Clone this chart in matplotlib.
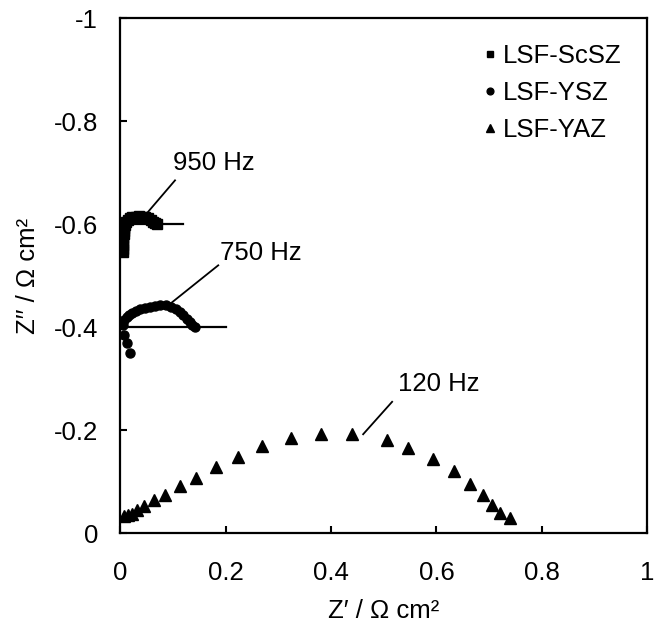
import matplotlib
matplotlib.use("Agg")
import matplotlib.pyplot as plt

plt.rcParams['font.family'] = ['Liberation Sans', 'DejaVu Sans']
plt.rcParams['axes.unicode_minus'] = False

# LSF-ScSZ (squares), Z' and Z''
scsz_x = [0.006, 0.006, 0.006, 0.006, 0.006, 0.007, 0.007, 0.008, 0.009, 0.011, 0.014,
          0.018, 0.023, 0.029, 0.035, 0.041, 0.047, 0.053, 0.058, 0.062, 0.066, 0.069]
scsz_y = [-0.545, -0.552, -0.559, -0.566, -0.573, -0.580, -0.587, -0.593, -0.599, -0.604, -0.608,
          -0.611, -0.613, -0.614, -0.615, -0.614, -0.613, -0.611, -0.608, -0.605, -0.602, -0.600]

# LSF-YSZ (circles)
ysz_x = [0.018, 0.012, 0.008, 0.005, 0.008, 0.012, 0.017, 0.023, 0.030, 0.038, 0.047, 0.056,
         0.066, 0.076, 0.086, 0.096, 0.105, 0.113, 0.120, 0.126, 0.132, 0.137, 0.141]
ysz_y = [-0.350, -0.370, -0.385, -0.405, -0.413, -0.419, -0.424, -0.428, -0.432, -0.435, -0.438,
         -0.440, -0.441, -0.442, -0.442, -0.440, -0.436, -0.430, -0.423, -0.416, -0.410, -0.404, -0.400]

# LSF-YAZ (triangles)
yaz_x = [0.008, 0.015, 0.022, 0.032, 0.046, 0.065, 0.085, 0.113, 0.144, 0.182, 0.223, 0.270,
         0.324, 0.381, 0.440, 0.507, 0.547, 0.593, 0.634, 0.663, 0.688, 0.706, 0.721, 0.740]
yaz_y = [-0.033, -0.036, -0.038, -0.045, -0.052, -0.064, -0.075, -0.091, -0.108, -0.128, -0.148,
         -0.169, -0.184, -0.192, -0.192, -0.181, -0.166, -0.144, -0.120, -0.095, -0.074, -0.054,
         -0.039, -0.030]

xticks = [0, 0.2, 0.4, 0.6, 0.8, 1]
xtick_labels = ['0', '0.2', '0.4', '0.6', '0.8', '1']
yticks = [0, -0.2, -0.4, -0.6, -0.8, -1]
ytick_labels = ['0', '-0.2', '-0.4', '-0.6', '-0.8', '-1']

fs = 18.5

fig = plt.figure(figsize=(6.57, 6.25), dpi=100)
ax = fig.add_axes([0.183, 0.147, 0.802, 0.824])

# offset baselines
ax.plot([0, 0.12], [-0.6, -0.6], color='black', lw=1.6)
ax.plot([0, 0.2], [-0.4, -0.4], color='black', lw=1.6)

ax.plot(scsz_x, scsz_y, 's', color='black', ms=6.5, label='LSF-ScSZ')
ax.plot(ysz_x, ysz_y, 'o', color='black', ms=6.5, label='LSF-YSZ')
ax.plot(yaz_x, yaz_y, '^', color='black', ms=8, label='LSF-YAZ')

# frequency annotations
ax.plot([0.053, 0.104], [-0.624, -0.685], color='black', lw=1.3)
ax.text(0.100, -0.718, '950 Hz', fontsize=fs, va='center', ha='left')
ax.plot([0.092, 0.186], [-0.443, -0.520], color='black', lw=1.3)
ax.text(0.19, -0.544, '750 Hz', fontsize=fs, va='center', ha='left')
ax.plot([0.461, 0.516], [-0.192, -0.255], color='black', lw=1.3)
ax.text(0.528, -0.29, '120 Hz', fontsize=fs, va='center', ha='left')

ax.set_xlim(0, 1)
ax.set_ylim(0, -1)
ax.set_xticks(xticks)
ax.set_xticklabels(xtick_labels)
ax.set_yticks(yticks)
ax.set_yticklabels(ytick_labels)
ax.tick_params(axis='both', direction='in', length=5, width=1.5, labelsize=fs)
ax.tick_params(axis='x', pad=20)
ax.tick_params(axis='y', pad=16)
for s in ax.spines.values():
    s.set_linewidth(1.6)

ax.set_xlabel('Z′ / Ω cm²', fontsize=fs, labelpad=10)
ax.set_ylabel('Z′′ / Ω cm²', fontsize=fs, labelpad=10)

leg = ax.legend(loc='upper right', frameon=False, fontsize=fs, handletextpad=0.1,
                handlelength=0.8, markerscale=0.75, labelspacing=0.5,
                borderaxespad=0.6)

fig.savefig('out.png', dpi=100)
